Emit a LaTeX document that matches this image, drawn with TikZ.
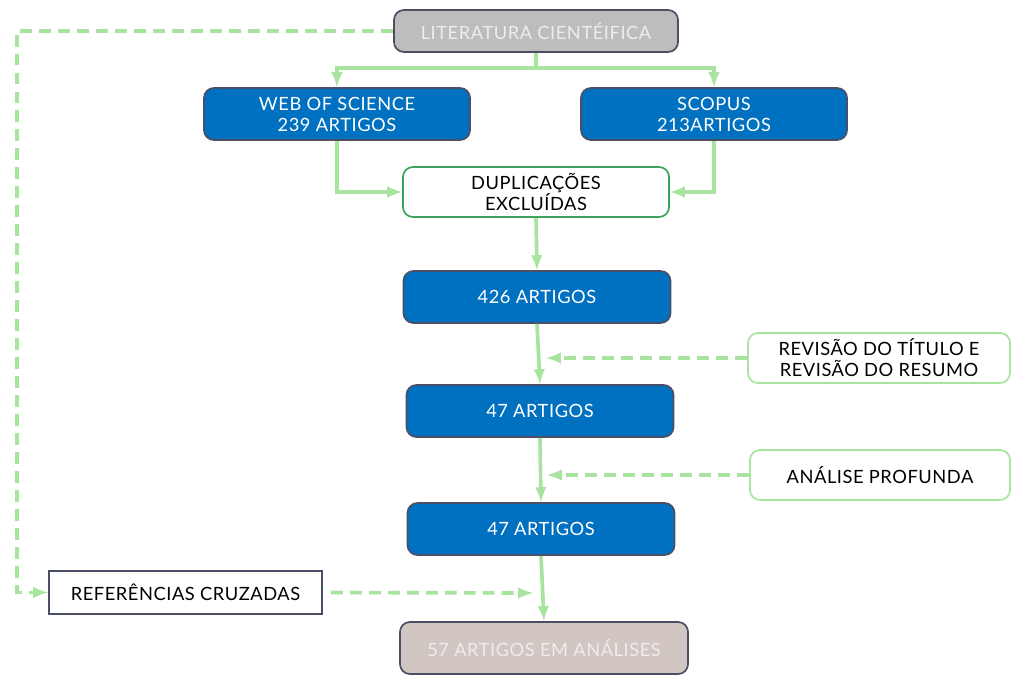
\documentclass[tikz,border=0pt]{standalone}
\usepackage{fontspec}
\setmainfont{Lato}[LetterSpace=3]
\usetikzlibrary{arrows,shapes,positioning,calc}
\definecolor{boxblue}{HTML}{0070C0}
\definecolor{boxedge}{HTML}{4A4F66}
\definecolor{boxgrey}{HTML}{BDBDBD}
\definecolor{boxtaupe}{HTML}{D1C6C1}
\definecolor{linegreen}{HTML}{A8E4A0}
\definecolor{dupgreen}{HTML}{3DA25E}
\tikzset{
	bluebox/.style={
		rectangle,
		rounded corners=2.5mm,
		line width=1.2pt,
		draw=boxedge,
		fill=boxblue,
		text=white,
		align=center,
		minimum width=6.65cm,
		minimum height=1.3cm,
	},
	greybox/.style={
		bluebox,
		fill=boxgrey,
		text=white!93!black,
	},
	dupbox/.style={
		bluebox,
		draw=dupgreen,
		fill=white,
		text=black,
		minimum height=1.25cm,
	},
	sidebox/.style={
		dupbox,
		draw=linegreen,
	},
	refbox/.style={
		rectangle,
		line width=1.2pt,
		draw=boxedge,
		fill=white,
		text=black,
		minimum width=6.825cm,
		minimum height=1.075cm,
	},
	flow/.style={
		draw=linegreen,
		line width=2.6pt,
		>=latex,
	},
	dashflow/.style={
		flow,
		dash pattern=on 8.5pt off 5pt,
	},
}

\begin{document}
\begin{tikzpicture}[x=0.025cm,y=-0.025cm,font=\fontsize{13}{15}\selectfont]
	\useasboundingbox (0,0) rectangle (1011,675);

	\node [greybox,minimum width=7.1cm,minimum height=1.05cm] (lit) at (536,31) {LITERATURA CIENTÉIFICA};
	\node [bluebox] (wos) at (337,114) {WEB OF SCIENCE\\239 ARTIGOS};
	\node [bluebox] (scopus) at (714,114) {SCOPUS\\213ARTIGOS};
	\node [dupbox] (dup) at (536,192) {DUPLICAÇÕES\\EXCLUÍDAS};
	\node [bluebox,minimum width=6.675cm] (a426) at (537,297) {426 ARTIGOS};
	\node [sidebox,minimum width=6.55cm] (rev) at (879,358) {REVISÃO DO TÍTULO E\\REVISÃO DO RESUMO};
	\node [bluebox,minimum width=6.675cm] (a47a) at (540,411) {47 ARTIGOS};
	\node [sidebox,minimum width=6.5cm] (ana) at (880,475) {ANÁLISE PROFUNDA};
	\node [bluebox,minimum width=6.675cm] (a47b) at (541,529) {47 ARTIGOS};
	\node [refbox] (ref) at (185.5,592.5) {REFERÊNCIAS CRUZADAS};
	\node [greybox,fill=boxtaupe,minimum width=7.2cm] (final) at (544,648) {57 ARTIGOS EM ANÁLISES};

	\coordinate (split) at (536,68);
	\coordinate (revtip) at (546,358);
	\coordinate (anatip) at (547,475);
	\coordinate (reftip) at (533,593);
	\coordinate (loopleft) at (17,31);

	\draw[flow] (lit.south) -- (split);
	\draw[flow,->] (split) -| (wos.north);
	\draw[flow,->] (split) -| (scopus.north);
	\draw[flow,->] (wos.south) |- (dup.west);
	\draw[flow,->] (scopus.south) |- (dup.east);
	\draw[flow,->] (dup.south) -- (a426.north);
	\draw[flow,->] (a426.south) -- (a47a.north);
	\draw[flow,->] (a47a.south) -- (a47b.north);
	\draw[flow,->] (a47b.south) -- (final.north);

	\draw[dashflow,->] (rev.west) -- (revtip);
	\draw[dashflow,->] (ana.west) -- (anatip);
	\draw[dashflow,->,shorten <=2mm] (ref.east) -- (reftip);
	\draw[dashflow,->] (lit.west) -- (loopleft) |- (ref.west);
\end{tikzpicture}
\end{document}
